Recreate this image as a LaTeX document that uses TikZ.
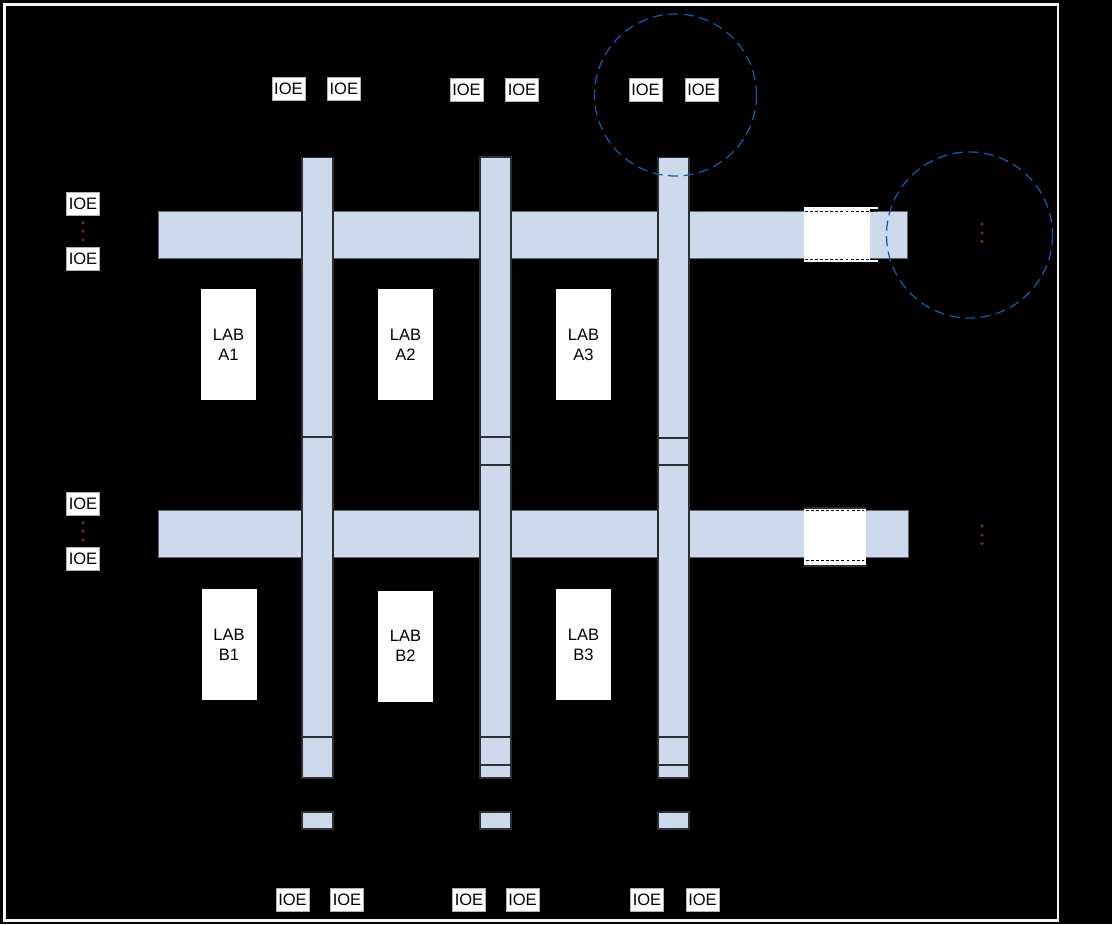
\documentclass[tikz,border=0pt]{standalone}
\usepackage{fontspec}
\setmainfont{Liberation Sans}
\definecolor{barfill}{HTML}{CCDAEB}
\definecolor{barline}{HTML}{5F6770}
\definecolor{divline}{HTML}{2B2F33}
\definecolor{circ}{RGB}{20,90,170}
\definecolor{dotc}{RGB}{95,48,8}
\tikzset{
  ioe/.style={draw=gray!60, line width=0.4pt, fill=white, minimum width=24.6pt,
    minimum height=17.4pt, inner sep=0pt, font=\fontsize{12.4}{13}\selectfont},
  lab/.style={fill=white, minimum width=41.25pt, minimum height=83.25pt, inner sep=0pt,
    align=center, font=\fontsize{12.4}{15}\selectfont},
  hbar/.style={fill=barfill, draw=barline, line width=0.6pt},
  vbar/.style={fill=barfill, draw=divline, line width=0.8pt},
  divider/.style={draw=divline, line width=1.1pt},
  pdot/.style={circle, fill=dotc, inner sep=0pt, minimum size=2.9pt},
  zoomring/.style={draw=circ, line width=0.95pt, dash pattern=on 7.5pt off 4.2pt},
  breakdash/.style={draw=black, line width=0.75pt, dash pattern=on 2.2pt off 1.6pt},
  breakedge/.style={draw=white, line width=1.4pt},
}
\begin{document}
\begin{tikzpicture}[x=0.75pt,y=-0.75pt]
\fill[black] (0,0) rectangle (1112,924);
\useasboundingbox (0,0) rectangle (1112,924);
\draw[white!92!gray, line width=2.2pt] (4.5,4.5) rectangle (1058,920.5);

% horizontal routing bars
\draw[hbar] (158,211) rectangle (907,258);
\draw[hbar] (158,510.5) rectangle (908,557.5);

% break in upper bar
\fill[white] (804,207) rectangle (870,262);
\draw[breakedge] (804,207.8) -- (878,207.8);
\draw[breakedge] (804,261.4) -- (878,261.4);
\draw[breakdash] (805,211) -- (876,211);
\draw[breakdash] (805,259) -- (876,259);

% break in lower bar
\fill[white] (804,508) rectangle (866,566);
\draw[divline, line width=0.8pt] (804,508) -- (866,508);
\draw[divline, line width=0.8pt] (804,566) -- (866,566);
\draw[breakdash] (806,510.5) -- (864,510.5);
\draw[breakdash] (806,560) -- (864,560);

% vertical routing bars
\draw[vbar] (302,157.5) rectangle (333,778);
\draw[vbar] (480,157) rectangle (511,778);
\draw[vbar] (658,157.5) rectangle (689,778);
\draw[divider] (302,437) -- (333,437);
\draw[divider] (302,737) -- (333,737);
\draw[divider] (480,437) -- (511,437);
\draw[divider] (480,465) -- (511,465);
\draw[divider] (480,737) -- (511,737);
\draw[divider] (480,765) -- (511,765);
\draw[divider] (658,438) -- (689,438);
\draw[divider] (658,465) -- (689,465);
\draw[divider] (658,737) -- (689,737);
\draw[divider] (658,765) -- (689,765);
\draw[vbar] (302,812) rectangle (333,829);
\draw[vbar] (480,812) rectangle (511,829);
\draw[vbar] (658,812) rectangle (689,829);

% LABs
\node[lab] (labA1) at (228.5,344.5) {LAB\\A1};
\node[lab] (labA2) at (405.5,344.5) {LAB\\A2};
\node[lab] (labA3) at (583.5,344.5) {LAB\\A3};
\node[lab] (labB1) at (229,644.5) {LAB\\B1};
\node[lab] (labB2) at (405.5,646) {LAB\\B2};
\node[lab] (labB3) at (583.5,644.5) {LAB\\B3};

% top IOEs
\node[ioe] (t1) at (288.4,89) {IOE};
\node[ioe] (t2) at (343.8,89) {IOE};
\node[ioe] (t3) at (466.5,89.5) {IOE};
\node[ioe] (t4) at (522,89.5) {IOE};
\node[ioe] (t5) at (645.5,90) {IOE};
\node[ioe] (t6) at (701.5,90) {IOE};

% bottom IOEs
\node[ioe] (b1) at (292.5,899.5) {IOE};
\node[ioe] (b2) at (347,899.5) {IOE};
\node[ioe] (b3) at (469,899.5) {IOE};
\node[ioe] (b4) at (522.5,899.5) {IOE};
\node[ioe] (b5) at (647,899.5) {IOE};
\node[ioe] (b6) at (702.5,899.5) {IOE};

% left IOEs
\node[ioe] (l1) at (83,204) {IOE};
\node[ioe] (l2) at (83,258.5) {IOE};
\node[ioe] (l3) at (83,504) {IOE};
\node[ioe] (l4) at (83,558.5) {IOE};

% dots
\node[pdot] (ld1) at (83,222.7) {};
\node[pdot] (ld2) at (83,231.3) {};
\node[pdot] (ld3) at (83,240) {};
\node[pdot] (ld4) at (83,522.7) {};
\node[pdot] (ld5) at (83,531.3) {};
\node[pdot] (ld6) at (83,540) {};
\node[pdot] (rd1) at (982,224) {};
\node[pdot] (rd2) at (982,233) {};
\node[pdot] (rd3) at (982,241.5) {};
\node[pdot] (rd4) at (982,526) {};
\node[pdot] (rd5) at (982,535) {};
\node[pdot] (rd6) at (982,543.5) {};

% dashed highlight circles
\draw[zoomring] (675.5,95) circle[radius=81];
\draw[zoomring] (969.5,235) circle[radius=83];
\end{tikzpicture}
\end{document}
